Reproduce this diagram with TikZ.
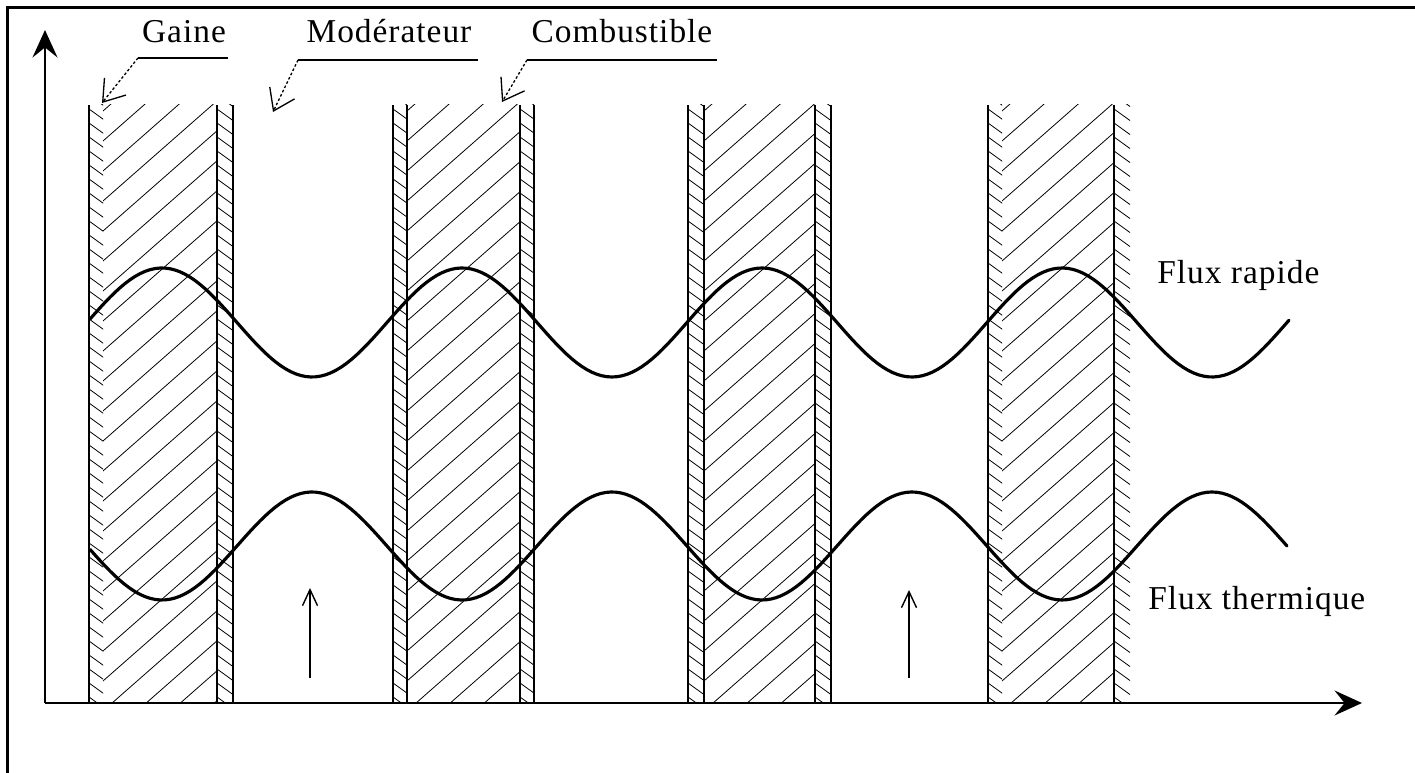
\documentclass[tikz,border=0pt]{standalone}
\usepackage{fontspec}
\newfontfamily\lblfont[LetterSpace=3]{Liberation Serif}
\usetikzlibrary{arrows.meta}
\tikzset{
  lbl/.style={font=\lblfont\fontsize{19}{21}\selectfont, inner sep=0pt},
  frameline/.style={line width=1.7pt},
  axisline/.style={line width=1pt, -{Stealth[length=0.55cm, width=0.5cm, inset=0.2cm]}},
  rodline/.style={line width=1pt},
  hatchline/.style={line width=0.45pt},
  fluxline/.style={line width=1.8pt, line join=round, line cap=round},
  uline/.style={line width=1pt},
  leader/.style={line width=0.75pt, dash pattern=on 1.5pt off 1.2pt, -{Straight Barb[length=0.4cm, width=0.55cm]}},
  uparrow/.style={line width=0.8pt, -{Straight Barb[length=0.32cm, width=0.3cm]}}
}
\begin{document}
\begin{tikzpicture}[x=0.02cm, y=0.02cm]
  \useasboundingbox (0,0) rectangle (1415,773);
  \draw[frameline] (7.5,0) -- (7.5,765.5) -- (1415,765.5);
  \coordinate (O) at (45,70);
  \coordinate (Ytop) at (45,743);
  \coordinate (Xend) at (1362,70);
  \foreach \a/\b/\c/\d in {89/103/217/233, 393/407/520/534, 688/704/815/831, 988/1002/1114/1130} {
    \begin{scope}
      \clip (\b,70) rectangle (\c,668);
      \foreach \k in {-4,...,20}
        \draw[hatchline] (\b,{92+30*\k}) -- ++(140,123);
    \end{scope}
    \begin{scope}
      \clip (\a,70) rectangle (\b,668);
      \foreach \k in {0,...,45}
        \draw[hatchline] (\a,{76+14*\k}) -- ++(18,-13);
    \end{scope}
    \begin{scope}
      \clip (\c,70) rectangle (\d,668);
      \foreach \k in {0,...,45}
        \draw[hatchline] (\c,{76+14*\k}) -- ++(18,-13);
    \end{scope}
  }
  \foreach \xx in {89,217,233,393,407,520,534,688,704,815,831,988,1114}
    \draw[rodline] (\xx,70) -- (\xx,668);
  \draw[axisline] (O) -- (Ytop);
  \draw[axisline] (O) -- (Xend);
  \draw[fluxline] plot[domain=90:1289, samples=240] (\x, {450.5+54.5*cos((\x-162)*1.2)});
  \draw[fluxline] plot[domain=90:1287, samples=240] (\x, {227-54*cos((\x-162)*1.2)});
  \coordinate (ModA) at (310,95);
  \coordinate (ModAtip) at (310,185);
  \coordinate (ModB) at (909,95);
  \coordinate (ModBtip) at (909,183);
  \draw[uparrow] (ModA) -- (ModAtip);
  \draw[uparrow] (ModB) -- (ModBtip);
  \node[lbl, anchor=base] (gaine) at (184,730) {Gaine};
  \node[lbl, anchor=base] (moder) at (389,730) {Modérateur};
  \node[lbl, anchor=base] (combu) at (622,730) {Combustible};
  \node[lbl, anchor=base west] (rapide) at (1157,489) {Flux rapide};
  \node[lbl, anchor=base west] (thermique) at (1148,163) {Flux thermique};
  \coordinate (gaineL) at (138,715);
  \coordinate (gaineR) at (228,715);
  \coordinate (gaineTip) at (102,670);
  \coordinate (moderL) at (298,713);
  \coordinate (moderR) at (478,713);
  \coordinate (moderTip) at (273,661);
  \coordinate (combuL) at (527,713);
  \coordinate (combuR) at (717,713);
  \coordinate (combuTip) at (502,671);
  \draw[uline] (gaineL) -- (gaineR);
  \draw[uline] (moderL) -- (moderR);
  \draw[uline] (combuL) -- (combuR);
  \draw[leader] (gaineL) -- (gaineTip);
  \draw[leader] (moderL) -- (moderTip);
  \draw[leader] (combuL) -- (combuTip);
\end{tikzpicture}
\end{document}
